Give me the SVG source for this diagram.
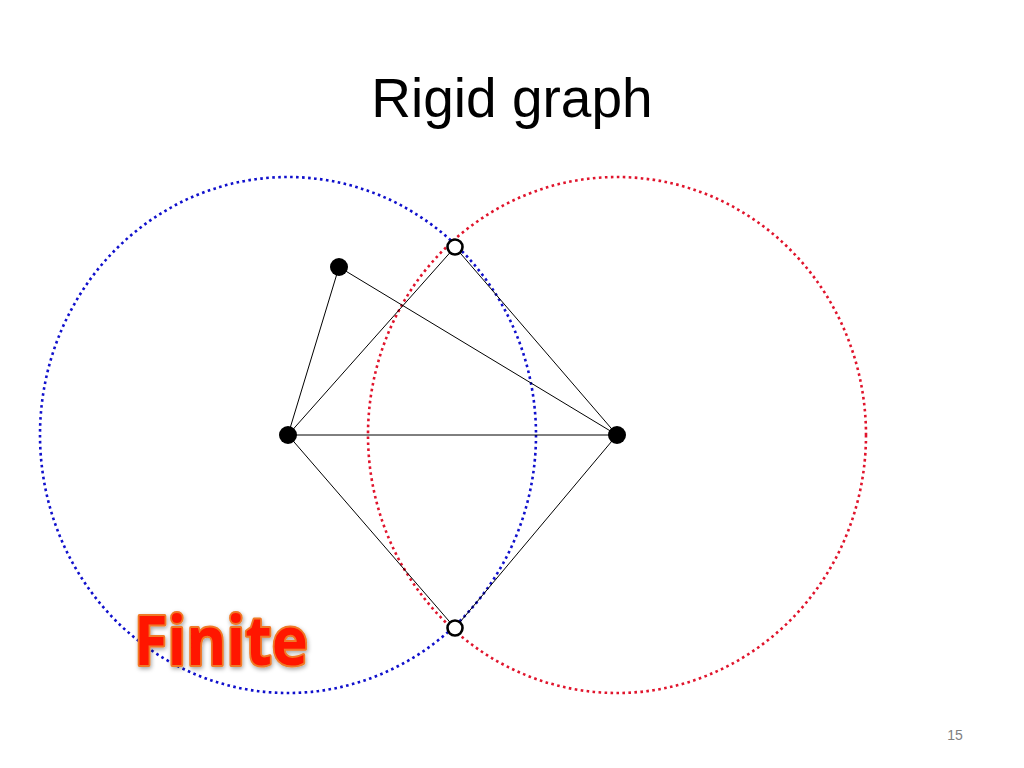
<svg xmlns="http://www.w3.org/2000/svg" width="1024" height="768" viewBox="0 0 1024 768">
<defs>
<style>
.ring{fill:none;stroke-width:2.6;stroke-dasharray:2.6 3.4}
.edge{stroke:#000;stroke-width:1;fill:none}
.solid{fill:#000}
.hollow{fill:#fff;stroke:#000;stroke-width:2.6}
</style>
<filter id="glow" x="-10%" y="-20%" width="120%" height="150%">
<feGaussianBlur in="SourceAlpha" stdDeviation="2"/>
<feOffset dx="1" dy="2" result="b"/>
<feFlood flood-color="#000" flood-opacity="0.35"/>
<feComposite in2="b" operator="in"/>
<feMerge><feMergeNode/><feMergeNode in="SourceGraphic"/></feMerge>
</filter>
</defs>
<rect width="1024" height="768" fill="#fff"/>
<text x="512" y="117" text-anchor="middle" font-family="Liberation Sans, Arial, sans-serif" font-size="55" fill="#000">Rigid graph</text>
<g id="circles">
<ellipse class="ring" cx="288" cy="435" rx="248" ry="258" stroke="#1010cc"/>
<ellipse class="ring" cx="617" cy="435" rx="249" ry="258" stroke="#e0142c"/>
</g>
<g id="connectors">
<line class="edge" x1="339" y1="267" x2="288" y2="435"/>
<line class="edge" x1="339" y1="267" x2="617" y2="435"/>
<line class="edge" x1="288" y1="435" x2="617" y2="435"/>
<line class="edge" x1="288" y1="435" x2="455" y2="247"/>
<line class="edge" x1="288" y1="435" x2="455" y2="628"/>
<line class="edge" x1="617" y1="435" x2="455" y2="247"/>
<line class="edge" x1="617" y1="435" x2="455" y2="628"/>
</g>
<g id="n1"><circle class="solid" cx="339" cy="267" r="9"/></g>
<g id="n2"><circle class="solid" cx="288" cy="435" r="9"/></g>
<g id="n3"><circle class="solid" cx="617" cy="435" r="9"/></g>
<g id="n4"><circle class="hollow" cx="455" cy="247" r="7.5"/></g>
<g id="n5"><circle class="hollow" cx="455" cy="628" r="7.5"/></g>
<g id="label" filter="url(#glow)">
<text x="134" y="665" font-family="Open Sans, Liberation Sans, sans-serif" font-weight="bold" font-size="68" textLength="174" lengthAdjust="spacingAndGlyphs" fill="#ff1800" stroke="#f07a28" stroke-width="4" paint-order="stroke" stroke-linejoin="round">Finite</text>
</g>
<text x="955" y="740" text-anchor="middle" font-family="Liberation Sans, Arial, sans-serif" font-size="14" fill="#808080">15</text>
</svg>
